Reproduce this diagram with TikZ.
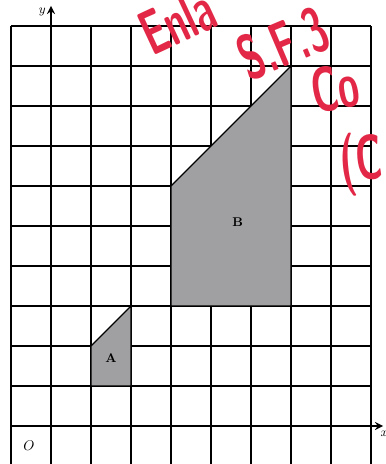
\documentclass[tikz,border=0pt]{standalone}
\usepackage{tikz}
\usepackage{graphicx}
\definecolor{shade}{RGB}{160,160,162}
\definecolor{pen}{RGB}{226,40,70}
\tikzset{
  gridline/.style={line width=0.9pt},
  axisline/.style={line width=1.5pt, -stealth},
  shapefill/.style={fill=shade, draw=black, line width=0.8pt},
  scrawl/.style={text=pen, font=\sffamily\bfseries\fontsize{30}{30}\selectfont, inner sep=0pt}
}
\newcommand{\tall}[1]{\scalebox{0.9}[1.5]{#1}}
\begin{document}
\begin{tikzpicture}
  \useasboundingbox (-1.275,-0.95) rectangle (8.375,10.65);
  \clip (-1.275,-0.95) rectangle (8.375,10.65);
  % Grid
  \draw[gridline] (-1,-1) grid (8,10);
  % Shapes
  \filldraw[shapefill] (1,1) -- (2,1) -- (2,3) -- (1,2) -- cycle;
  \filldraw[shapefill] (3,3) -- (6,3) -- (6,9) -- (3,6) -- cycle;
  % Axes
  \coordinate (xs) at (-1,0);
  \coordinate (xe) at (8.3,0);
  \coordinate (ys) at (0,-1);
  \coordinate (ye) at (0,10.5);
  \draw[axisline] (xs) -- (xe);
  \draw[axisline] (ys) -- (ye);
  \node[font=\small\itshape] (xlab) at (8.33,-0.2) {$x$};
  \node[font=\small\itshape] (ylab) at (-0.22,10.35) {$y$};
  \node (orig) at (-0.55,-0.48) {$O$};
  % Labels
  \node[font=\small\bfseries] (A) at (1.5,1.7) {A};
  \node[font=\small\bfseries] (B) at (4.67,5.1) {B};
  % Red notes
  \node[scrawl, rotate=25] (n1) at (3.15,10.12) {\tall{Enla}};
  \node[scrawl, rotate=23] (n2) at (5.8,9.55) {\tall{S.F.3}};
  \node[scrawl, rotate=10, anchor=west] (n3) at (6.5,8.35) {\tall{Co}};
  \node[scrawl, rotate=5, anchor=west] (n4) at (7.22,6.5) {\tall{(C}};
\end{tikzpicture}
\end{document}
